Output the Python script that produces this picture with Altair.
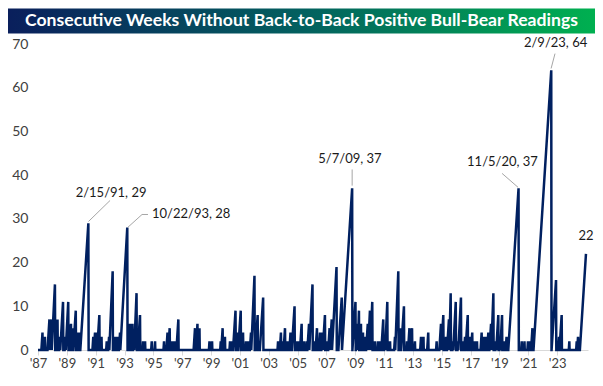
import altair as alt
import pandas as pd

# Peak weeks (decimal years) and their counter values
peak_dates = [
    1987.95, 1988.12, 1988.43, 1988.57, 1988.81, 1988.99, 1989.16, 1989.37, 1989.54, 1989.73,
    1989.92, 1990.05, 1990.25, 1990.38, 1990.54, 1991.12, 1991.46, 1991.58, 1991.70, 1991.88,
    1992.03, 1992.39, 1992.55, 1992.80, 1992.96, 1993.13, 1993.31, 1993.81, 1994.00, 1994.17,
    1994.27, 1994.45, 1994.69, 1994.90, 1995.04, 1995.50, 1995.73, 1996.35, 1996.59, 1996.74,
    1996.90, 1997.07, 1997.34, 1998.49, 1998.66, 1998.80, 1999.49, 1999.67, 2000.27, 2000.40,
    2000.56, 2000.91, 2001.05, 2001.29, 2001.44, 2001.65, 2001.81, 2002.01, 2002.15, 2002.36,
    2002.60, 2002.82, 2003.20, 2004.23, 2004.43, 2004.57, 2004.71, 2004.88, 2005.09, 2005.37,
    2005.54, 2005.71, 2005.86, 2006.02, 2006.21, 2006.37, 2006.61, 2006.78, 2006.92, 2007.13,
    2007.30, 2007.47, 2007.61, 2007.79, 2007.94, 2008.27, 2008.63, 2009.35, 2009.58, 2009.72,
    2009.82, 2009.96, 2010.10, 2010.24, 2010.43, 2010.58, 2010.74, 2010.93, 2011.14, 2011.28,
    2011.50, 2011.62, 2011.78, 2011.97, 2012.31, 2012.54, 2012.69, 2012.93, 2013.14, 2013.31,
    2013.49, 2013.69, 2014.11, 2014.28, 2014.61, 2015.19, 2015.49, 2015.65, 2015.84, 2016.04,
    2016.16, 2016.32, 2016.51, 2016.67, 2016.87, 2017.01, 2017.15, 2017.34, 2017.50, 2017.65,
    2017.81, 2017.98, 2018.30, 2018.43, 2018.58, 2018.76, 2018.95, 2019.11, 2019.29, 2019.45,
    2019.57, 2019.71, 2019.88, 2020.02, 2020.85, 2021.07, 2021.26, 2021.50, 2021.64, 2021.81,
    2023.11, 2023.44, 2023.65, 2023.83, 2024.36, 2024.87, 2024.96, 2025.51,
]
peak_values = [
    4, 3, 7, 7, 15, 7, 3, 11, 3, 11,
    6, 5, 9, 4, 4, 29, 3, 4, 4, 8,
    3, 2, 3, 18, 3, 3, 4, 28, 6, 6,
    3, 13, 8, 2, 2, 2, 2, 2, 4, 5,
    2, 2, 7, 5, 6, 5, 2, 2, 2, 5,
    3, 2, 2, 9, 4, 9, 4, 2, 2, 4,
    17, 8, 12, 2, 4, 2, 5, 2, 4, 10,
    2, 2, 6, 2, 2, 6, 15, 2, 5, 4,
    4, 8, 2, 5, 7, 19, 12, 37, 11, 6,
    9, 6, 4, 3, 6, 9, 11, 2, 2, 2,
    7, 3, 11, 2, 3, 18, 5, 10, 2, 5,
    5, 2, 3, 3, 4, 2, 6, 8, 3, 7,
    13, 2, 11, 2, 12, 2, 3, 8, 3, 4,
    2, 2, 4, 3, 3, 4, 6, 13, 2, 8,
    2, 8, 2, 3, 37, 2, 2, 2, 2, 5,
    64, 16, 3, 8, 2, 2, 3, 22,
]
series_start = 1987.64
series_end = 2025.65

tick_years = [1987.64, 1989.63, 1991.63, 1993.62, 1995.61, 1997.61, 1999.60, 2001.59,
              2003.58, 2005.58, 2007.57, 2009.57, 2011.56, 2013.55, 2015.55, 2017.54,
              2019.53, 2021.52, 2023.52]

ann_text = ["2/15/91, 29", "10/22/93, 28", "5/7/09, 37", "11/5/20, 37", "2/9/23, 64", "22"]

# ---- build the counter's vertices (one week per step) ----
week = 1 / 52.18
rows = [(series_start, 0)]
prev_end = series_start
last = len(peak_dates) - 1
for k, (t, v) in enumerate(zip(peak_dates, peak_values)):
    s = max(t - v * week, prev_end)
    if s > prev_end:
        rows.append((s, 0))
    rows.append((t, v))
    if k < last:
        prev_end = t + week
        rows.append((prev_end, 0))
df = pd.DataFrame(rows, columns=["t", "v"])
df["i"] = range(len(df))

ann = pd.DataFrame({
    "label": ann_text,
    "t": [1992.69, 1995.52, 2009.20, 2019.74, 2023.41, 2025.52],
    "v": [36.0, 31.0, 43.8, 42.9, 70.3, 26.0],
    "align": ["center", "left", "center", "center", "center", "center"],
})
leaders = pd.DataFrame({
    "g": [0, 0, 1, 1, 1, 2, 2, 3, 3, 4, 4],
    "o": [0, 1, 0, 1, 2, 0, 1, 0, 1, 0, 1],
    "t": [1991.13, 1992.62, 1993.86, 1994.83, 1995.24, 2009.35, 2009.35, 2019.71, 2020.82, 2023.37, 2023.10],
    "v": [29.4, 34.2, 28.1, 31.0, 31.0, 37.6, 41.3, 40.4, 37.2, 67.8, 64.4],
})

W, H = 550, 306
FONT = "Lato"

xscale = alt.Scale(domain=[series_start, series_end], nice=False, zero=False)
yscale = alt.Scale(domain=[0, 70], nice=False)

x_axis = alt.Axis(values=tick_years, labelExpr="\"'\" + slice(toString(floor(datum.value)), 2)",
                  title=None, grid=False, domainColor="#d9d9d9", tickColor="#d9d9d9",
                  tickSize=5, labelFontSize=13, labelColor="#404040", labelFont=FONT,
                  labelPadding=2, labelOverlap=False, labelFlush=False)
y_axis = alt.Axis(values=[0, 10, 20, 30, 40, 50, 60, 70], title=None, grid=False, domain=False,
                  ticks=False, tickSize=0, labelPadding=10, labelFontSize=14,
                  labelColor="#404040", labelFont=FONT, labelOverlap=False)

X = alt.X("t:Q", scale=xscale, axis=x_axis)
Y = alt.Y("v:Q", scale=yscale, axis=y_axis)

line = alt.Chart(df).mark_line(color="#002060", strokeWidth=2.5, strokeJoin="miter").encode(
    x=X, y=Y, order="i:Q",
)

lead = alt.Chart(leaders).mark_line(color="#a6a6a6", strokeWidth=1).encode(
    x=X, y=Y, detail="g:N", order="o:Q",
)

txt_c = alt.Chart(ann[ann["align"] == "center"]).mark_text(
    font=FONT, fontSize=13, color="#1a1a1a", baseline="middle", align="center").encode(
    x=X, y=Y, text="label:N")
txt_l = alt.Chart(ann[ann["align"] == "left"]).mark_text(
    font=FONT, fontSize=13, color="#1a1a1a", baseline="middle", align="left").encode(
    x=X, y=Y, text="label:N")

hdr_df = pd.DataFrame({"title": ["Consecutive Weeks Without Back-to-Back Positive Bull-Bear Readings"]})
grad = alt.Gradient(gradient="linear", x1=0, x2=1, y1=0, y2=0,
                    stops=[alt.GradientStop(offset=0, color="#0a1f5c"),
                           alt.GradientStop(offset=0.5, color="#03605f"),
                           alt.GradientStop(offset=1, color="#00b050")])
hdr_rect = alt.Chart(hdr_df).mark_rect(fill=grad).encode(
    x=alt.value(-30), x2=alt.value(557), y=alt.value(-35.5), y2=alt.value(-10.5))
hdr_text = alt.Chart(hdr_df).mark_text(font=FONT, fontSize=17.6, fontWeight="bold", color="white",
                                        baseline="middle", align="center").encode(
    x=alt.value(263.5), y=alt.value(-23), text="title:N")

chart = alt.layer(line, lead, txt_c, txt_l, hdr_rect, hdr_text).properties(
    width=W, height=H, background="white", padding=0
).configure_view(stroke=None).configure_axis(labelOverlap=False)

chart.save("out.html", embed_options={"renderer": "svg", "actions": False})
